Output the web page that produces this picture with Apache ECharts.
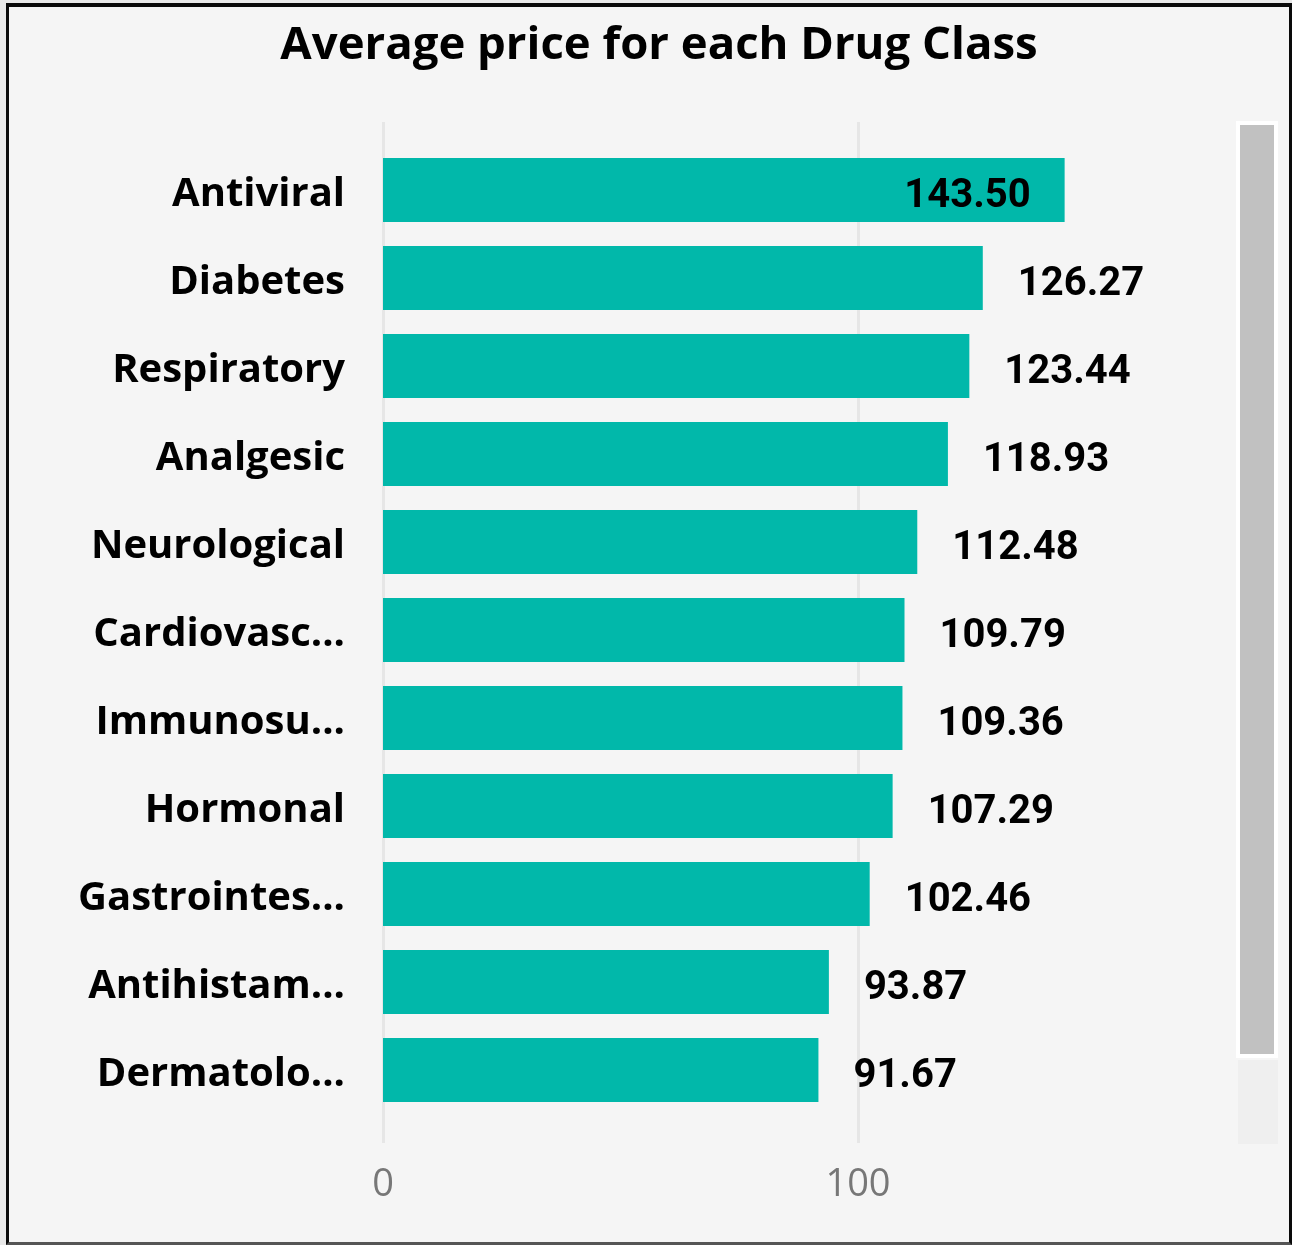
<!DOCTYPE html>
<html>
<head>
<meta charset="utf-8">
<script src="https://cdn.jsdelivr.net/npm/echarts@6/dist/echarts.min.js"></script>
<style>
  html, body { margin: 0; padding: 0; width: 1292px; height: 1245px; background: #e9e9e9; overflow: hidden; }
  #frame { position: absolute; left: 6px; top: 3px; width: 1286px; height: 1242px; box-sizing: border-box; border: 3px solid #0a0a0a; border-top-width: 4px; border-bottom-color: #555; background: #f5f5f5; }
  #chart { position: absolute; left: 0; top: 0; width: 1292px; height: 1245px; }
  #thumb { position: absolute; left: 1236px; top: 121px; width: 42px; height: 937px; box-sizing: border-box; border: 4px solid #ffffff; background: #c1c1c1; }
  #track { position: absolute; left: 1238px; top: 1060px; width: 40px; height: 84px; background: #efefef; }
</style>
</head>
<body>
<div id="frame"></div>
<div id="chart"></div>
<div id="track"></div>
<div id="thumb"></div>
<script>
const categories = ["Antiviral", "Diabetes", "Respiratory", "Analgesic", "Neurological", "Cardiovascular", "Immunosuppressant", "Hormonal", "Gastrointestinal", "Antihistamine", "Dermatological"];
const values = [143.50, 126.27, 123.44, 118.93, 112.48, 109.79, 109.36, 107.29, 102.46, 93.87, 91.67];
const xTicks = [0, 100];

const chart = echarts.init(document.getElementById('chart'), null, { renderer: 'canvas' });
const labelFont = "'Liberation Sans Narrow', 'Roboto', sans-serif";
const catFont = "'Open Sans', sans-serif";
const seriesData = values.map((v, i) => ({
  value: v,
  label: i === 0 ? { position: 'insideRight', distance: 34 } : { position: 'right', distance: 35 }
}));

function catLabel(v) {
  let t = v;
  try {
    t = echarts.format.truncateText(v, 270, 'bold 40px ' + catFont, '...');
  } catch (e) { t = v; }
  return '{a|' + t + '}';
}

chart.setOption({
  backgroundColor: 'transparent',
  animation: false,
  title: {
    text: 'Average price for each Drug Class',
    left: 654, top: 18, textAlign: 'center',
    textStyle: { fontFamily: catFont, fontWeight: 'bold', fontSize: 45.5, color: '#000' }
  },
  grid: [
    { left: 383, top: 146, width: 950, height: 968, outerBoundsMode: 'none', containLabel: false },
    { left: 383, top: 122, width: 950, height: 1021, outerBoundsMode: 'none', containLabel: false }
  ],
  xAxis: [
    { gridIndex: 0, type: 'value', min: 0, max: 200, interval: 100, show: false },
    { gridIndex: 1, type: 'value', min: 0, max: 200, interval: 100,
      axisLine: { show: false }, axisTick: { show: false },
      splitLine: { show: true, lineStyle: { color: '#e6e6e6', width: 3 } },
      axisLabel: { color: '#777', fontSize: 38, fontFamily: catFont, margin: 23,
        formatter: v => xTicks.includes(v) ? String(v) : '' } }
  ],
  yAxis: [
    { gridIndex: 0, type: 'category', data: categories, inverse: true,
      axisLine: { show: false }, axisTick: { show: false }, splitLine: { show: false },
      axisLabel: { margin: 38, formatter: catLabel,
        rich: { a: { color: '#000', fontSize: 40, fontWeight: 'bold', fontFamily: catFont, padding: [10, 0, 0, 0] } } } },
    { gridIndex: 1, type: 'category', data: [], show: false }
  ],
  series: [{
    type: 'bar', xAxisIndex: 0, yAxisIndex: 0,
    data: seriesData,
    barWidth: 64,
    itemStyle: { color: '#01B8AA' },
    label: { show: true, color: '#000', fontSize: 40, fontWeight: 'bold', fontFamily: labelFont,
      offset: [0, 7],
      formatter: p => p.value.toFixed(2) }
  }]
});
</script>
</body>
</html>
